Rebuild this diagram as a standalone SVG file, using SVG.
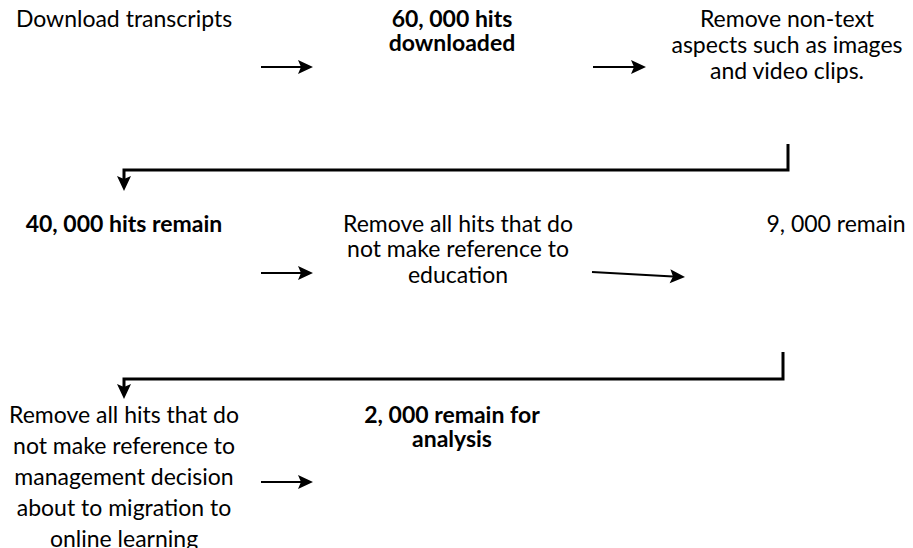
<svg xmlns="http://www.w3.org/2000/svg" width="913" height="548" viewBox="0 0 913 548">
<defs>
<style>
text{font-family:Lato,"Open Sans","Liberation Sans",sans-serif;font-size:23px;fill:#000;text-anchor:middle}
.b{font-weight:bold}
.ln{fill:none;stroke:#000;stroke-width:2}
.cn{fill:none;stroke:#000;stroke-width:3}
</style>
<marker id="ah" markerUnits="userSpaceOnUse" markerWidth="16" markerHeight="15" refX="3" refY="7" orient="auto" overflow="visible">
<path d="M0,0 L15,7 L0,14 L3,7 z" fill="#000"/>
</marker>
</defs>
<rect width="913" height="548" fill="#fff"/>
<g id="n1"><text x="124" y="27">Download transcripts</text></g>
<g id="n2"><text class="b" x="452" y="27">60, 000 hits</text><text class="b" x="452" y="51">downloaded</text></g>
<g id="n3"><text x="787" y="27">Remove non-text</text><text x="787" y="53">aspects such as images</text><text x="787" y="79">and video clips.</text></g>
<g id="n4"><text class="b" x="124" y="232">40, 000 hits remain</text></g>
<g id="n5"><text x="458" y="232">Remove all hits that do</text><text x="458" y="257">not make reference to</text><text x="458" y="283">education</text></g>
<g id="n6"><text x="836" y="232">9, 000 remain</text></g>
<g id="n7"><text x="124" y="423">Remove all hits that do</text><text x="124" y="454">not make reference to</text><text x="124" y="485">management decision</text><text x="124" y="516">about to migration to</text><text x="124" y="547">online learning</text></g>
<g id="n8"><text class="b" x="452" y="423">2, 000 remain for</text><text class="b" x="452" y="447">analysis</text></g>
<g id="connectors">
<path class="ln" d="M261,67 H301" marker-end="url(#ah)"/>
<path class="ln" d="M593,67 H634" marker-end="url(#ah)"/>
<path class="cn" d="M788,144 V170 H124 V179" marker-end="url(#ah)"/>
<path class="ln" d="M261,273 H301" marker-end="url(#ah)"/>
<path class="ln" d="M592,272 L673,276.4" marker-end="url(#ah)"/>
<path class="cn" d="M783,352 V379 H124 V387" marker-end="url(#ah)"/>
<path class="ln" d="M261,482 H301" marker-end="url(#ah)"/>
</g>
</svg>
